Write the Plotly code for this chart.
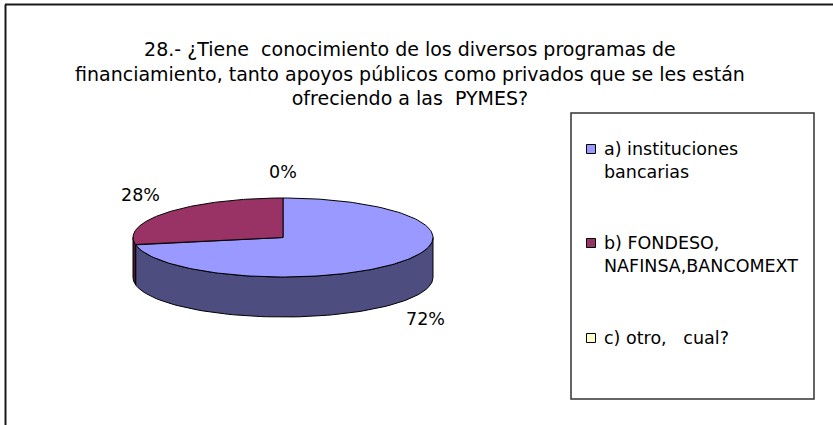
import numpy as np
import plotly.graph_objects as go

# ---------------- data ----------------
title_lines = [
    "28.- ¿Tiene\u00a0 conocimiento de los diversos programas de",
    "financiamiento, tanto apoyos públicos como privados que se les están",
    "ofreciendo a las\u00a0 PYMES?",
]
categories = [
    "a) instituciones<br>bancarias",
    "b) FONDESO,<br>NAFINSA,BANCOMEXT",
    "c) otro,\u00a0\u00a0 cual?",
]
values = [72, 28, 0]
pct_labels = ["72%", "28%", "0%"]
top_colors = ["#9999FF", "#993366", "#FFFFCC"]
side_colors = ["#4D4D80", "#4D1A33", "#80805F"]

# ---------------- geometry / style ----------------
W, H = 833, 425
CX, CY, RX, RY, DEPTH = 283, 237.5, 150, 39.5, 40
FONT = "DejaVu Sans"

fig = go.Figure()

total = float(sum(values))
angles = []
start = 90.0
for v in values:
    end = start - 360.0 * v / total
    angles.append((start, end))
    start = end


def pt(theta_deg, dy=0.0):
    t = np.radians(theta_deg)
    return CX + RX * np.cos(t), CY - RY * np.sin(t) + dy


# side walls (front half only)
for (a0, a1), col, v in zip(angles, side_colors, values):
    if v <= 0:
        continue
    lo, hi = a1, a0
    for k in range(-2, 3):
        flo, fhi = -180 + 360 * k, 0 + 360 * k
        s, e = max(lo, flo), min(hi, fhi)
        if e - s <= 1e-6:
            continue
        th = np.linspace(s, e, 80)
        xt, yt = pt(th)
        xb, yb = pt(th[::-1], DEPTH)
        xs = np.concatenate([xt, xb, xt[:1]])
        ys = np.concatenate([yt, yb, yt[:1]])
        fig.add_trace(go.Scatter(x=xs, y=ys, mode="lines", fill="toself",
                                 fillcolor=col, line=dict(color="black", width=1),
                                 hoverinfo="skip", showlegend=False))

# top faces
for (a0, a1), col, v in zip(angles, top_colors, values):
    if v <= 0:
        continue
    th = np.linspace(a0, a1, 160)
    xa, ya = pt(th)
    xs = np.concatenate([[CX], xa, [CX]])
    ys = np.concatenate([[CY], ya, [CY]])
    fig.add_trace(go.Scatter(x=xs, y=ys, mode="lines", fill="toself",
                             fillcolor=col, line=dict(color="black", width=1),
                             hoverinfo="skip", showlegend=False))

# percentage labels
lx, ly = [], []
for (a0, a1) in angles:
    m = np.radians((a0 + a1) / 2.0)
    x = CX + (RX + 35) * np.cos(m)
    y = CY - (RY + 24) * np.sin(m) + (DEPTH + 3 if np.sin(m) < -0.05 else 0)
    lx.append(x)
    ly.append(y)
fig.add_trace(go.Scatter(x=lx, y=ly, mode="text", text=pct_labels,
                         textfont=dict(family=FONT, size=17.5, color="black"),
                         hoverinfo="skip", showlegend=False))

# legend (custom box)
LEG_X0, LEG_X1, LEG_Y0, LEG_Y1 = 571, 814, 113, 399
item_y = [149, 243, 338]
sq_x = 591
fig.add_trace(go.Scatter(x=[sq_x] * len(categories), y=item_y, mode="markers",
                         marker=dict(symbol="square", size=9, color=top_colors,
                                     line=dict(color="black", width=1)),
                         hoverinfo="skip", showlegend=False))

annotations = []
for cat, yy in zip(categories, item_y):
    annotations.append(dict(x=602, y=yy - 12, xref="x", yref="y", text=cat,
                            showarrow=False, xanchor="left", yanchor="top",
                            align="left",
                            font=dict(family=FONT, size=17.5, color="black")))

annotations.append(dict(x=410, y=73, xref="x", yref="y",
                        text="<br>".join(title_lines), showarrow=False,
                        xanchor="center", yanchor="middle", align="center",
                        font=dict(family=FONT, size=19, color="black")))

shapes = [
    dict(type="rect", xref="x", yref="y", x0=LEG_X0, x1=LEG_X1, y0=LEG_Y0, y1=LEG_Y1,
         line=dict(color="#333333", width=1.5), fillcolor="rgba(0,0,0,0)"),
    dict(type="line", xref="x", yref="y", x0=5, x1=W, y0=4.5, y1=4.5,
         line=dict(color="#1a1a1a", width=2)),
    dict(type="line", xref="x", yref="y", x0=5.5, x1=5.5, y0=4.5, y1=H,
         line=dict(color="#1a1a1a", width=2)),
]

fig.update_layout(
    width=W, height=H, autosize=False,
    margin=dict(l=0, r=0, t=0, b=0),
    paper_bgcolor="white", plot_bgcolor="white",
    xaxis=dict(range=[0, W], visible=False, fixedrange=True),
    yaxis=dict(range=[H, 0], visible=False, fixedrange=True),
    annotations=annotations, shapes=shapes, showlegend=False,
)

fig.write_html("out.html", config={"displayModeBar": False},
               post_script="document.body.style.margin='0';document.body.style.overflow='hidden';")
